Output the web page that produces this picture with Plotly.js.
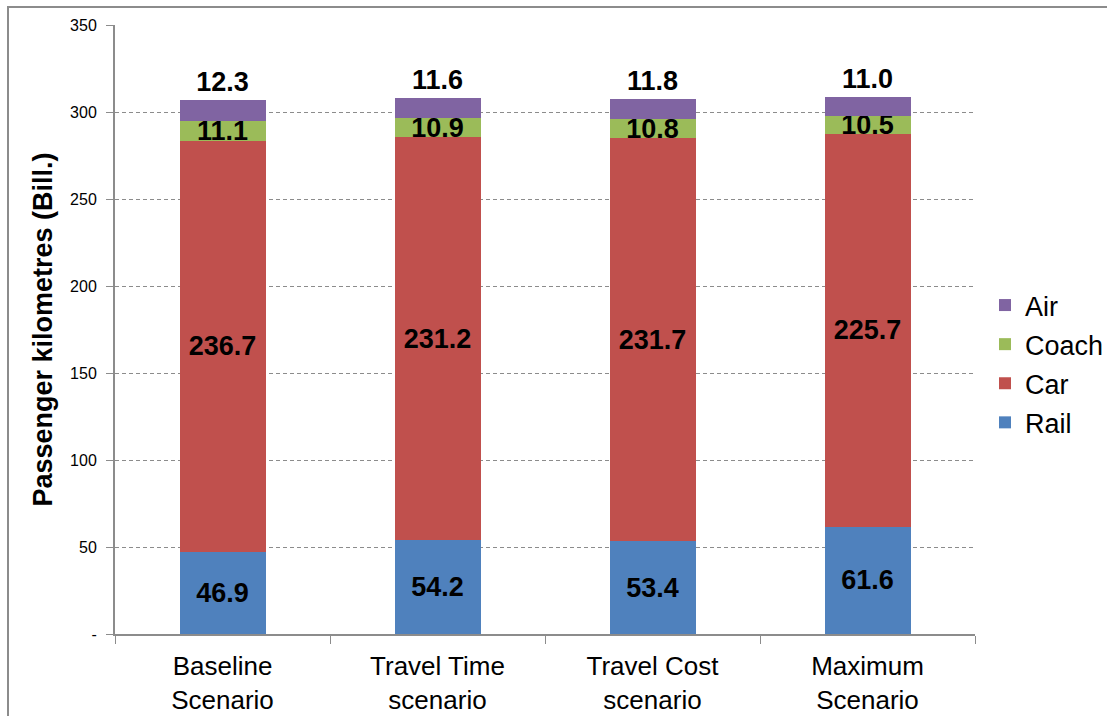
<!DOCTYPE html>
<html>
<head>
<meta charset="utf-8">
<script src="https://cdn.plot.ly/plotly-3.0.1.min.js"></script>
<style>
  html, body { margin: 0; padding: 0; background: #fff; }
  #chart { width: 1107px; height: 716px; }
</style>
</head>
<body>
<div id="chart"></div>
<script>
// Passenger kilometres by mode, per scenario (billions)
const scenarios = ["Baseline<br>Scenario", "Travel Time<br>scenario", "Travel Cost<br>scenario", "Maximum<br>Scenario"];
const rail  = [46.9, 54.2, 53.4, 61.6];
const car   = [236.7, 231.2, 231.7, 225.7];
const coach = [11.1, 10.9, 10.8, 10.5];
const air   = [12.3, 11.6, 11.8, 11.0];

const yTickVals = [0, 50, 100, 150, 200, 250, 300, 350];
const yTickText = ["-", "50", "100", "150", "200", "250", "300", "350"];

const FONT = "Liberation Sans, Arial, sans-serif";
const labelFont = { family: FONT, size: 27, color: "#000000", weight: "bold" };

function series(name, values, color, pos, rank) {
  return {
    type: "bar",
    name: name,
    x: scenarios,
    y: values,
    width: 0.4,
    marker: { color: color, line: { width: 0 } },
    text: values.map(v => v.toFixed(1)),
    textposition: pos,
    insidetextanchor: "middle",
    constraintext: "none",
    textfont: labelFont,
    insidetextfont: labelFont,
    outsidetextfont: labelFont,
    cliponaxis: false,
    legendgroup: name,
    legendrank: rank,
    hoverinfo: "x+y+name"
  };
}

// stacked bottom to top; legend lists the top segment first
const data = [
  series("Rail", rail, "#4F81BD", "inside", 4),
  series("Car", car, "#C0504D", "inside", 3),
  series("Coach", coach, "#9BBB59", "inside", 2),
  series("Air", air, "#8064A2", "outside", 1)
];

const layout = {
  width: 1107,
  height: 716,
  margin: { l: 115, r: 132, t: 25, b: 82 },
  paper_bgcolor: "#ffffff",
  plot_bgcolor: "#ffffff",
  font: { family: FONT, size: 16, color: "#000000" },
  barmode: "stack",
  showlegend: true,
  legend: {
    xref: "container", yref: "container",
    x: 985 / 1107, xanchor: "left",
    y: 1 - 364 / 716, yanchor: "middle",
    traceorder: "grouped",
    tracegroupgap: 1,
    font: { family: FONT, size: 27, color: "#000000" },
    bgcolor: "rgba(0,0,0,0)"
  },
  xaxis: {
    type: "category",
    range: [-0.5, 3.5],
    showgrid: false,
    showline: true,
    linecolor: "#8c8c8c",
    linewidth: 2,
    ticks: "outside",
    tickson: "boundaries",
    ticklen: 8,
    tickcolor: "#8c8c8c",
    tickwidth: 1,
    ticklabelstandoff: 8,
    tickfont: { family: FONT, size: 26, color: "#000000" },
    automargin: false,
    fixedrange: true
  },
  yaxis: {
    range: [0, 350],
    tickvals: yTickVals,
    ticktext: yTickText,
    showgrid: true,
    gridcolor: "#8c8c8c",
    griddash: "4px,3px",
    gridwidth: 1,
    zeroline: false,
    showline: true,
    linecolor: "#8c8c8c",
    linewidth: 2,
    ticks: "outside",
    ticklen: 7,
    tickcolor: "#8c8c8c",
    tickwidth: 1,
    ticklabelstandoff: 6,
    tickfont: { family: FONT, size: 16, color: "#000000" },
    title: {
      text: "Passenger kilometres (Bill.)",
      font: { family: FONT, size: 27, color: "#000000", weight: "bold" },
      standoff: 10
    },
    automargin: false,
    fixedrange: true
  },
  shapes: [
    {
      // chart area frame
      type: "rect",
      xref: "paper", yref: "paper",
      x0: (8 - 115) / 860, x1: (1120 - 115) / 860,
      y0: (634 - 730) / 609, y1: 1 + (25 - 7) / 609,
      line: { color: "#8c8c8c", width: 2 },
      fillcolor: "rgba(0,0,0,0)",
      layer: "below"
    }
  ]
};

Plotly.newPlot("chart", data, layout, { displayModeBar: false, staticPlot: true });
</script>
</body>
</html>
